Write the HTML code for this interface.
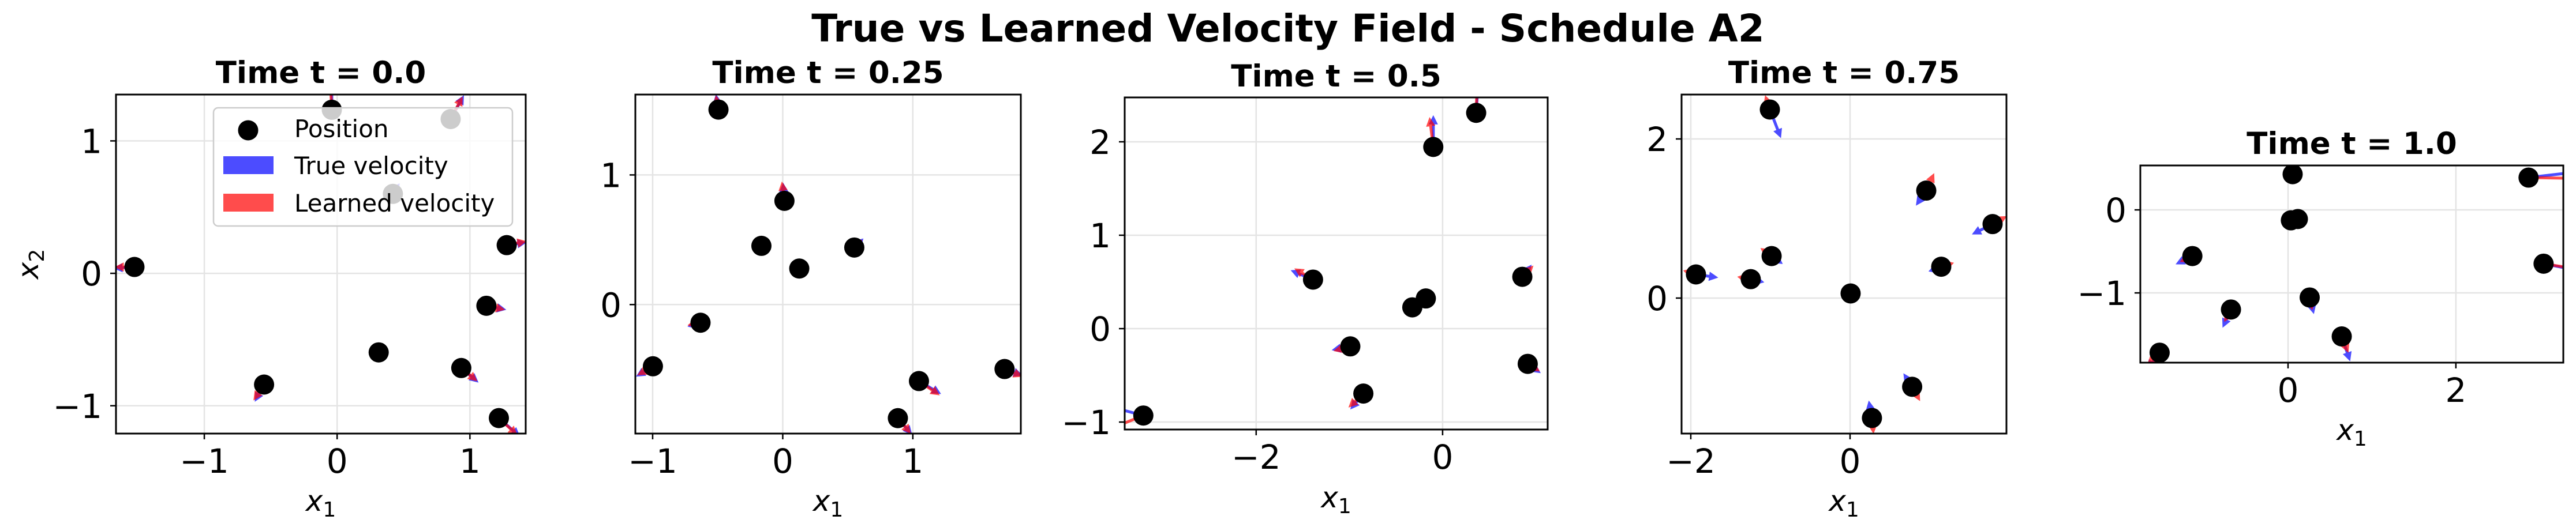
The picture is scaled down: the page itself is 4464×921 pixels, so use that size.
<!DOCTYPE html>
<html><head><meta charset="utf-8"><style>
html,body{margin:0;padding:0;background:#fff}
svg{display:block}
text{font-family:"DejaVu Sans","Liberation Sans",sans-serif}
</style></head><body>
<svg id="fig" xmlns="http://www.w3.org/2000/svg" width="4464" height="921" viewBox="0 0 4464 921">
<rect width="4464" height="921" fill="#fff"/>
<text x="2232" y="72" text-anchor="middle" font-size="66" font-weight="bold">True vs Learned Velocity Field - Schedule A2</text>
</svg>
<script>
// Panel 1 (t = 0.0)
const p1X=[-1.526,-0.55,-0.04,0.855,0.42,0.313,0.935,1.124,1.277,1.218];
const p1Y=[0.048,-0.84,1.235,1.165,0.60,-0.597,-0.715,-0.245,0.213,-1.093];
const p1TU=[-0.16,-0.07,0.0,0.10,0.05,0.02,0.13,0.15,0.15,0.16];
const p1TV=[-0.01,-0.13,0.2,0.18,0.08,-0.06,-0.11,-0.03,0.02,-0.14];
const p1LU=[-0.15,-0.08,-0.01,0.09,0.04,0.02,0.12,0.14,0.15,0.14];
const p1LV=[0.0,-0.12,0.19,0.17,0.07,-0.05,-0.10,-0.03,0.03,-0.13];
// Panel 2 (t = 0.25)
const p2X=[-0.494,0.013,-0.164,0.127,0.55,-0.632,-0.998,1.047,0.885,1.705];
const p2Y=[1.504,0.80,0.453,0.278,0.44,-0.14,-0.476,-0.59,-0.876,-0.497];
const p2TU=[-0.02,-0.01,0,0,0.07,-0.1,-0.13,0.17,0.11,0.14];
const p2TV=[0.12,0.14,0,0,0.07,-0.03,-0.08,-0.1,-0.13,-0.05];
const p2LU=[-0.02,-0.02,0,0,0.06,-0.1,-0.12,0.16,0.1,0.14];
const p2LV=[0.11,0.15,0,0,0.06,-0.02,-0.07,-0.11,-0.12,-0.06];
// Panel 3 (t = 0.5)
const p3X=[0.36,-0.1,-1.39,0.855,-0.18,-0.325,-0.99,0.913,-0.85,-3.21];
const p3Y=[2.31,1.945,0.525,0.555,0.323,0.228,-0.19,-0.377,-0.695,-0.93];
const p3TU=[0.02,0.0,-0.24,0.1,0,0,-0.2,0.14,-0.14,-0.3];
const p3TV=[0.3,0.34,0.1,0.13,0,0,-0.04,-0.1,-0.17,0.08];
const p3LU=[0.01,-0.04,-0.2,0.12,0,0,-0.18,0.13,-0.16,-0.3];
const p3LV=[0.28,0.32,0.12,0.12,0,0,-0.05,-0.08,-0.15,-0.12];
// Panel 4 (t = 0.75)
const p4X=[-1.007,0.957,1.79,-0.985,1.145,-1.935,-1.247,0.007,0.78,0.275];
const p4Y=[2.37,1.351,0.93,0.528,0.394,0.297,0.238,0.058,-1.115,-1.507];
const p4TU=[0.14,-0.13,-0.26,0.14,-0.16,0.28,0.17,0,-0.11,-0.04];
const p4TV=[-0.36,-0.19,-0.13,-0.1,-0.06,-0.04,-0.04,0,0.17,0.22];
const p4LU=[-0.06,0.1,0.18,-0.14,0.16,-0.16,-0.17,0,0.1,0.02];
const p4LV=[0.18,0.22,0.1,0.1,0.05,0.05,0.03,0,-0.18,-0.2];
// Panel 5 (t = 1.0)
const p5X=[0.055,2.866,0.034,0.117,-1.14,3.045,0.258,-0.68,0.64,-1.53];
const p5Y=[0.43,0.389,-0.126,-0.11,-0.556,-0.648,-1.055,-1.2,-1.524,-1.72];
const p5TU=[0,0.6,0,0,-0.2,0.5,0.05,-0.1,0.1,-0.15];
const p5TV=[0,0.07,0,0,-0.1,-0.1,-0.2,-0.22,-0.3,-0.2];
const p5LU=[0,0.6,0,0,-0.15,0.5,0.03,-0.08,0.08,-0.15];
const p5LV=[0,-0.01,0,0,-0.07,-0.08,-0.15,-0.15,-0.2,-0.15];
// tick values
const p1XT=[-1,0,1], p1YT=[-1,0,1];
const p2XT=[-1,0,1], p2YT=[0,1];
const p3XT=[-2,0], p3YT=[-1,0,1,2];
const p4XT=[-2,0], p4YT=[0,2];
const p5XT=[0,2], p5YT=[-1,0];
const titles=["Time t = 0.0","Time t = 0.25","Time t = 0.5","Time t = 0.75","Time t = 1.0"];

const NS="http://www.w3.org/2000/svg";
const svg=document.getElementById('fig');
function mk(tag,attrs,parent){const e=document.createElementNS(NS,tag);for(const k in attrs)e.setAttribute(k,attrs[k]);(parent||svg).appendChild(e);return e;}
function fmt(v){return v<0?"\u2212"+Math.abs(v):String(v);}

const layout=[
 {l:201,r:911,t:164,b:752,xd:[-1.665,1.42],yd:[-1.21,1.35],tb:144,xb:886},
 {l:1101,r:1769,t:164,b:752,xd:[-1.133,1.83],yd:[-0.995,1.62],tb:144,xb:886},
 {l:1949,r:2682,t:169,b:745,xd:[-3.41,1.127],yd:[-1.08,2.475],tb:150,xb:880},
 {l:2914,r:3477,t:164,b:752,xd:[-2.116,1.964],yd:[-1.703,2.558],tb:144,xb:886},
 {l:3709,r:4442,t:287,b:629,xd:[-1.76,3.28],yd:[-1.84,0.535],tb:267,xb:763}
];
const data=[
 [p1X,p1Y,p1TU,p1TV,p1LU,p1LV,p1XT,p1YT],
 [p2X,p2Y,p2TU,p2TV,p2LU,p2LV,p2XT,p2YT],
 [p3X,p3Y,p3TU,p3TV,p3LU,p3LV,p3XT,p3YT],
 [p4X,p4Y,p4TU,p4TV,p4LU,p4LV,p4XT,p4YT],
 [p5X,p5Y,p5TU,p5TV,p5LU,p5LV,p5XT,p5YT]
];

function arrow(g,x0,y0,x1,y1,color){
  const dx=x1-x0,dy=y1-y0,L=Math.hypot(dx,dy);
  if(L<2)return null;
  const ux=dx/L,uy=dy/L,px=-uy,py=ux;
  const hw=2.5,hl=Math.min(16,L*0.6),hh=8;
  const bx=x1-ux*hl,by=y1-uy*hl;
  const pts=[[x0+px*hw,y0+py*hw],[bx+px*hw,by+py*hw],[bx+px*hh,by+py*hh],[x1,y1],[bx-px*hh,by-py*hh],[bx-px*hw,by-py*hw],[x0-px*hw,y0-py*hw]];
  return mk('polygon',{points:pts.map(p=>p[0].toFixed(1)+","+p[1].toFixed(1)).join(" "),fill:color,'fill-opacity':0.7},g);
}

layout.forEach((L,i)=>{
  const [X,Y,TU,TV,LU,LV,XT,YT]=data[i];
  const sx=v=>L.l+(v-L.xd[0])/(L.xd[1]-L.xd[0])*(L.r-L.l);
  const sy=v=>L.b-(v-L.yd[0])/(L.yd[1]-L.yd[0])*(L.b-L.t);
  const g=mk('g',{});
  
  
  const cp=mk('clipPath',{id:'clip'+i},g);
  mk('rect',{x:L.l,y:L.t,width:L.r-L.l,height:L.b-L.t},cp);
  const t=mk('text',{x:(L.l+L.r)/2,y:L.tb,'text-anchor':'middle','font-size':53,'font-weight':'bold'},g);
  t.textContent=titles[i];
  
  
  XT.forEach(v=>{const l=mk('line',{x1:sx(v),x2:sx(v),y1:L.t,y2:L.b,stroke:'#e4e4e4','stroke-width':2.5},g);
    });
  YT.forEach(v=>{const l=mk('line',{y1:sy(v),y2:sy(v),x1:L.l,x2:L.r,stroke:'#e4e4e4','stroke-width':2.5},g);
    });
  const ag=mk('g',{'clip-path':'url(#clip'+i+')'},g);
  X.forEach((x,k)=>{
    const a=arrow(ag,sx(x),sy(Y[k]),sx(x+TU[k]),sy(Y[k]+TV[k]),'#0000ff');
    if(a){}
    const b=arrow(ag,sx(x),sy(Y[k]),sx(x+LU[k]),sy(Y[k]+LV[k]),'#ff0000');
    if(b){}
  });
  X.forEach((x,k)=>{
    const c=mk('circle',{cx:sx(x),cy:sy(Y[k]),r:17.5,fill:'#000'},ag);
    
    
  });
  const f=mk('rect',{x:L.l,y:L.t,width:L.r-L.l,height:L.b-L.t,fill:'none',stroke:'#000','stroke-width':3},g);
  
  XT.forEach(v=>{
    mk('line',{x1:sx(v),x2:sx(v),y1:L.b,y2:L.b+10,stroke:'#000','stroke-width':2.5},g);
    const tl=mk('text',{x:sx(v),y:L.b+68,'text-anchor':'middle','font-size':58},g);
    tl.textContent=fmt(v);
    
  });
  YT.forEach(v=>{
    mk('line',{x1:L.l-10,x2:L.l,y1:sy(v),y2:sy(v),stroke:'#000','stroke-width':2.5},g);
    const tl=mk('text',{x:L.l-24,y:sy(v)+21,'text-anchor':'end','font-size':58},g);
    tl.textContent=fmt(v);
    
  });
  const xl=mk('text',{x:(L.l+L.r)/2,y:L.xb,'text-anchor':'middle','font-size':50},g);
  xl.innerHTML='<tspan font-style="italic">x</tspan><tspan font-size="36" dy="10">1</tspan>';
  
});
const yl=mk('text',{transform:'translate(66,458) rotate(-90)','text-anchor':'middle','font-size':50});
yl.innerHTML='<tspan font-style="italic">x</tspan><tspan font-size="36" dy="10">2</tspan>';


const lg=mk('g',{});


mk('rect',{x:370,y:187,width:518,height:205,rx:8,fill:'#fff','fill-opacity':0.8,stroke:'#cccccc','stroke-width':2.5},lg);
const lm=mk('circle',{cx:430,cy:226,r:17.5,fill:'#000'},lg);

const lb=mk('rect',{x:387,y:271,width:87,height:31,fill:'#0000ff','fill-opacity':0.7},lg);

const lr=mk('rect',{x:387,y:336,width:87,height:31,fill:'#ff0000','fill-opacity':0.7},lg);

[["Position",238,'legend-entry-position'],["True velocity",302,'legend-entry-true'],["Learned velocity",367,'legend-entry-learned']].forEach(e=>{
  const t=mk('text',{x:510,y:e[1],'font-size':42},lg);
  t.textContent=e[0];
  
  
});
</script>
</body></html>
